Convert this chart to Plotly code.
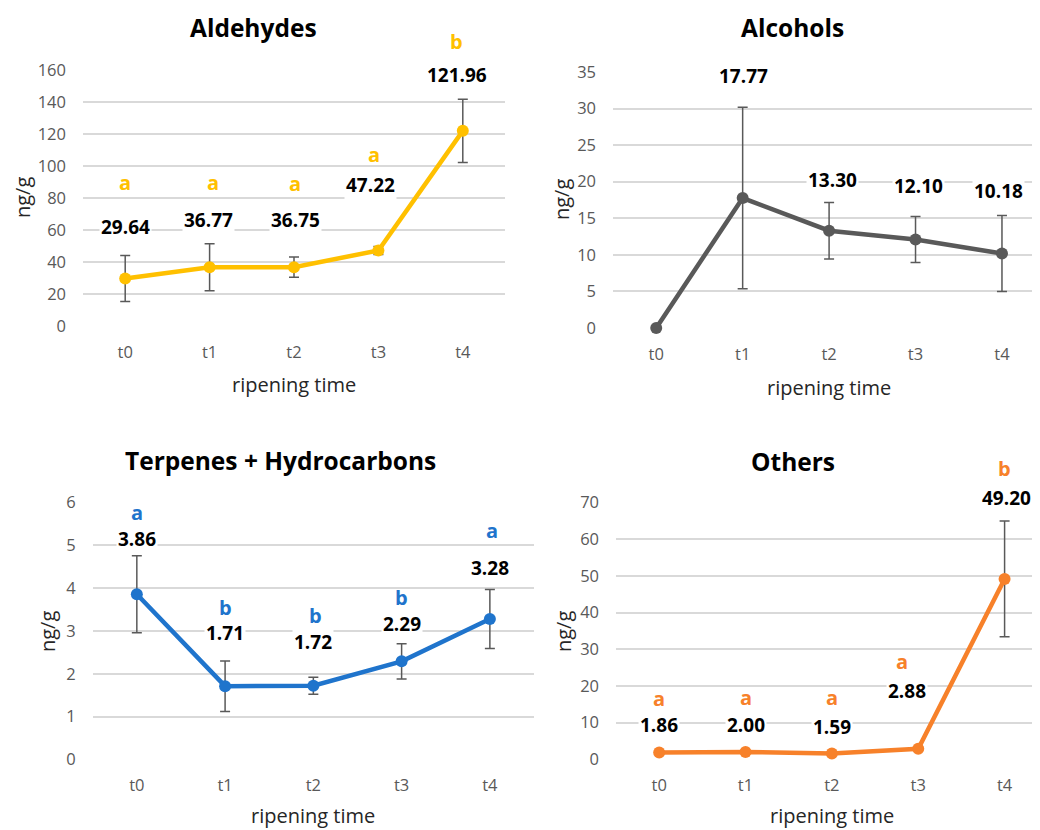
import plotly.graph_objects as go

# the page shows the figure 8 px in from the top-left corner (body margin)
OFF = 8
W, H = 1040 - OFF, 830 - OFF

categories = ["t0", "t1", "t2", "t3", "t4"]

ald_values = [29.64, 36.77, 36.75, 47.22, 121.96]
ald_errors = [14.4, 14.7, 6.3, 2.5, 19.7]
ald_letters = ["a", "a", "a", "a", "b"]

alc_values = [0.0, 17.77, 13.30, 12.10, 10.18]
alc_errors = [0.0, 12.4, 3.85, 3.15, 5.2]
alc_letters = ["", "", "", "", ""]

ter_values = [3.86, 1.71, 1.72, 2.29, 3.28]
ter_errors = [0.9, 0.59, 0.2, 0.41, 0.69]
ter_letters = ["a", "b", "b", "b", "a"]

oth_values = [1.86, 2.00, 1.59, 2.88, 49.20]
oth_errors = [0.0, 0.0, 0.0, 0.0, 15.8]
oth_letters = ["a", "a", "a", "a", "b"]

FONT = "Open Sans"


def px_x(v):
    return (v - OFF) / W


def px_y(v):
    return 1 - (v - OFF) / H


# panel layout config (pixel geometry of the reference, screen coordinates)
panels = [
    dict(title="Aldehydes", values=ald_values, errors=ald_errors, letters=ald_letters,
         color="#FFC000", xpx=(83, 505), ypx=(70, 326), yrange=[0, 160], dtick=20,
         xrange=[-0.5, 4.5], title_xy=(253, 27), ytitle_xy=(22, 198), xtitle_xy=(294, 385),
         lab_dy=[51.6, 47.2, 47.2, 65.4, 55.9], lab_dx=[0, -1, 1, -8, -6],
         let_dy=[95.6, 84.2, 84, 96.4, 88.9], let_dx=[0, 3, 1, -4, -6]),
    dict(title="Alcohols", values=alc_values, errors=alc_errors, letters=alc_letters,
         color="#595959", xpx=(613, 1040), ypx=(72, 328), yrange=[0, 35], dtick=5,
         xrange=[-0.5, 4.44], title_xy=(792, 28), ytitle_xy=(562, 200), xtitle_xy=(829, 387),
         lab_dy=[0, 122, 50.8, 53.8, 62.3], lab_dx=[0, 1, 3, 3, -3],
         let_dy=[0, 0, 0, 0, 0], let_dx=[0, 0, 0, 0, 0]),
    dict(title="Terpenes + Hydrocarbons", values=ter_values, errors=ter_errors, letters=ter_letters,
         color="#1F74CC", xpx=(92.7, 534), ypx=(502.7, 759.3), yrange=[0, 6], dtick=1,
         xrange=[-0.5, 4.5], title_xy=(280, 460), ytitle_xy=(47, 632), xtitle_xy=(313, 815),
         lab_dy=[55.2, 53.2, 44, 37.5, 50.7], lab_dx=[0, 0, 0, 0, 0],
         let_dy=[81.5, 78.5, 70.7, 64, 89], let_dx=[0, 0, 2, 0, 2]),
    dict(title="Others", values=oth_values, errors=oth_errors, letters=oth_letters,
         color="#F7812A", xpx=(616, 1040), ypx=(502.7, 759.3), yrange=[0, 70], dtick=10,
         xrange=[-0.5, 4.41], title_xy=(793, 461), ytitle_xy=(563, 632), xtitle_xy=(832, 815),
         lab_dy=[27.5, 27, 26.8, 57.7, 81.3], lab_dx=[0, 0, 0, -11, 2],
         let_dy=[54.2, 54, 55.5, 87.7, 110.7], let_dx=[0, 0, 0, -16, 0]),
]

fig = go.Figure()
annotations = []
layout_axes = {}

for i, p in enumerate(panels):
    n = "" if i == 0 else str(i + 1)
    xa, ya = "x" + n, "y" + n
    fig.add_trace(go.Scatter(
        x=categories, y=p["values"], xaxis=xa, yaxis=ya, mode="lines+markers",
        line=dict(color=p["color"], width=4.5),
        marker=dict(color=p["color"], size=12),
        error_y=dict(type="data", array=p["errors"], visible=True,
                     color="#595959", thickness=1.5, width=5),
        showlegend=False, cliponaxis=False,
    ))
    layout_axes["xaxis" + n] = dict(
        domain=[px_x(p["xpx"][0]), min(1.0, px_x(p["xpx"][1]))], anchor=ya, automargin=False,
        range=p["xrange"], showgrid=False, zeroline=False, showline=False,
        ticks="", tickfont=dict(family=FONT, size=16.5, color="#595959"),
        ticklabelstandoff=14,
    )
    layout_axes["yaxis" + n] = dict(
        domain=[px_y(p["ypx"][1]), px_y(p["ypx"][0])], anchor=xa, automargin=False,
        range=p["yrange"], dtick=p["dtick"], showgrid=True, gridcolor="#D9D9D9",
        gridwidth=1.5, zeroline=False, showline=False, ticks="",
        tickfont=dict(family=FONT, size=16.5, color="#595959"),
        ticklabelstandoff=16,
    )
    # titles
    annotations.append(dict(
        text="<b>%s</b>" % p["title"], xref="paper", yref="paper",
        x=px_x(p["title_xy"][0]), y=px_y(p["title_xy"][1]), showarrow=False,
        xanchor="center", yanchor="middle",
        font=dict(family=FONT, size=24.5, color="#000000")))
    annotations.append(dict(
        text="ng/g", xref="paper", yref="paper", textangle=-90,
        x=px_x(p["ytitle_xy"][0]), y=px_y(p["ytitle_xy"][1]), showarrow=False,
        xanchor="center", yanchor="middle",
        font=dict(family=FONT, size=20, color="#262626")))
    annotations.append(dict(
        text="ripening time", xref="paper", yref="paper",
        x=px_x(p["xtitle_xy"][0]), y=px_y(p["xtitle_xy"][1]), showarrow=False,
        xanchor="center", yanchor="middle",
        font=dict(family=FONT, size=20, color="#262626")))
    # value labels and letters
    for j, cat in enumerate(categories):
        if p["lab_dy"][j] > 0:
            annotations.append(dict(
                text="<b>%.2f</b>" % p["values"][j], xref=xa, yref=ya,
                x=cat, y=p["values"][j], showarrow=False,
                xanchor="center", yanchor="middle",
                xshift=p["lab_dx"][j], yshift=p["lab_dy"][j],
                bgcolor="#FFFFFF", borderpad=1,
                font=dict(family=FONT, size=19, color="#000000")))
        if p["letters"][j]:
            annotations.append(dict(
                text="<b>%s</b>" % p["letters"][j], xref=xa, yref=ya,
                x=cat, y=p["values"][j], showarrow=False,
                xanchor="center", yanchor="middle",
                xshift=p["let_dx"][j], yshift=p["let_dy"][j],
                font=dict(family=FONT, size=20, color=p["color"])))

fig.update_layout(
    template="none",
    width=W, height=H, margin=dict(l=0, r=0, t=0, b=0, pad=0, autoexpand=False),
    paper_bgcolor="#FFFFFF", plot_bgcolor="#FFFFFF",
    annotations=annotations, **layout_axes,
)

fig.write_html("out.html")
